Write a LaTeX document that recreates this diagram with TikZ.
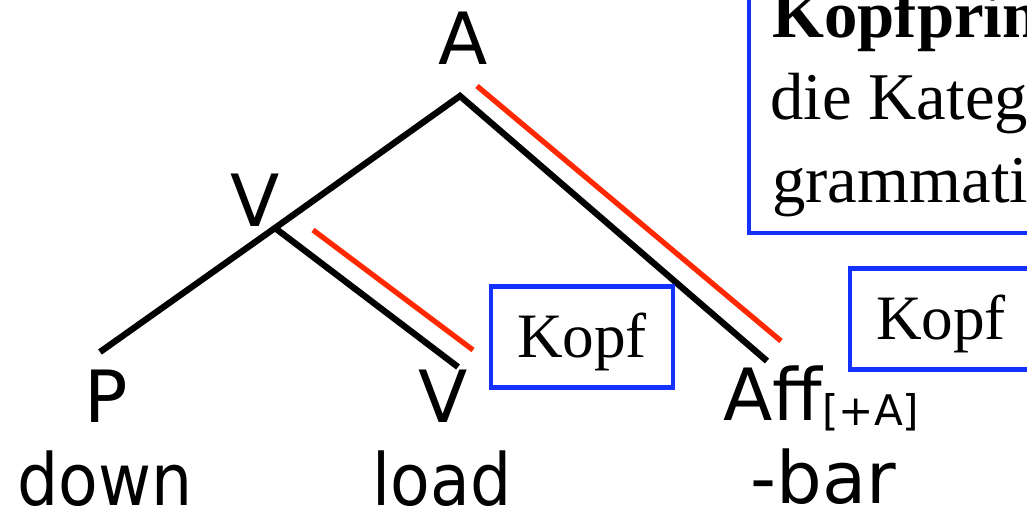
\documentclass[tikz,border=0pt]{standalone}
\usepackage{fontspec}
\setmainfont{Liberation Serif}
\newfontfamily\treefont{DejaVu Sans}
\newfontfamily\wordfont[FakeStretch=0.9]{DejaVu Sans}
\usetikzlibrary{positioning, calc}
\definecolor{headred}{RGB}{255,40,0}
\definecolor{kopfblue}{RGB}{20,50,255}

\begin{document}
\begin{tikzpicture}[x=0.02cm, y=-0.02cm,
    cat/.style={font=\treefont\fontsize{41}{41}\selectfont, inner sep=0pt, anchor=base},
    word/.style={cat, font=\wordfont\fontsize{41}{41}\selectfont},
    branch/.style={line width=3.6pt},
    headline/.style={draw=headred, line width=3pt},
    kopfbox/.style={draw=kopfblue, line width=2.3pt, inner sep=0pt,
      font=\fontsize{36}{36}\selectfont, text height=23.8pt, text depth=0pt,
      minimum width=3.64cm, minimum height=2.02cm},
    ruletext/.style={font=\fontsize{38}{38}\selectfont, inner sep=0pt, anchor=base west}]
      \useasboundingbox (0,0) rectangle (1027,509);
      \clip (0,0) rectangle (1027,509);
      %
      \node[cat] (A) at (463,65) {A};
      \node[cat] (V) at (255,227) {V};
      \node[cat] (P) at (106,422) {P};
      \node[cat] (Vhead) at (443,422) {V};
      \node[cat, anchor=base west] (Aff) at (723,420)
        {Aff\raisebox{-3pt}{\fontsize{24}{24}\selectfont[+A]}};
      %
      \node[word] (down) at ($(P.base)+(-1,83)$) {down};
      \node[word] (load) at ($(Vhead.base)+(-1,83)$) {load};
      \node[cat, anchor=base west] (bar) at ($(Aff.base west)+(27,83)$) {-bar};
      %
      \coordinate (a) at (460,96);
      \coordinate (v) at (275,228);
      \coordinate (p) at (100,352);
      \coordinate (vv) at (458,367);
      \coordinate (aff) at (767,361);
      \draw[branch] (p) -- (v) -- (a) -- (aff);
      \draw[branch] (v) -- (vv);
      %
      \draw[headline] ($(a)+(17,-10)$) -- ($(aff)+(14,-20)$);
      \draw[headline] ($(v)+(38,2)$) -- ($(vv)+(15,-17)$);
      %
      \node[kopfbox] (kopfV) at (582,337) {Kopf};
      \node[kopfbox] (kopfAff) at (941,319) {Kopf};
      %
      \draw[kopfblue, line width=2.3pt] (749,-20) rectangle (1060,233);
      \node[ruletext] (rule1) at (772,38) {\bfseries Kopfprin};
      \node[ruletext] (rule2) at (770,120) {die Kateg};
      \node[ruletext] (rule3) at (772,203) {grammati};
\end{tikzpicture}
\end{document}
